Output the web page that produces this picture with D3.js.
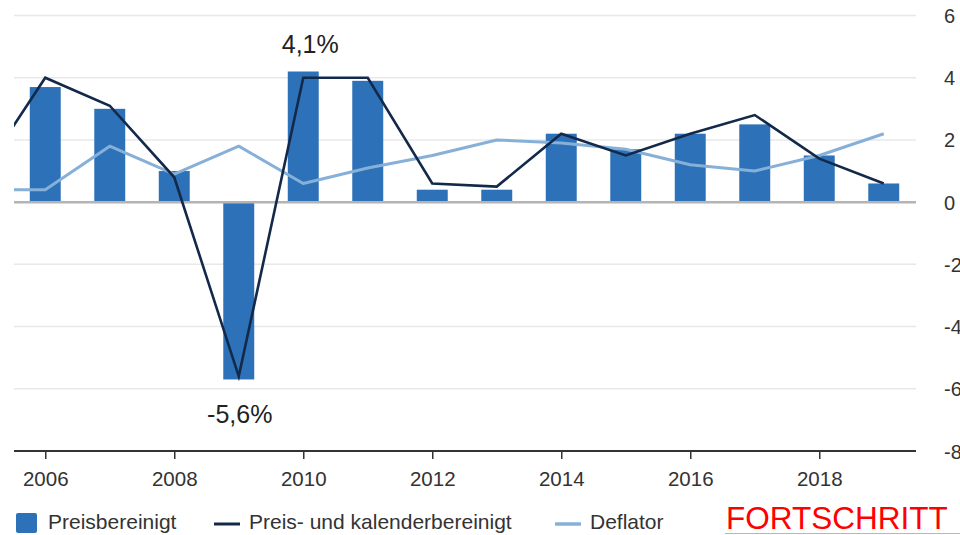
<!DOCTYPE html>
<html>
<head>
<meta charset="utf-8">
<script src="https://cdn.jsdelivr.net/npm/d3@7"></script>
<style>
  html, body { margin: 0; padding: 0; background: #fff; overflow: hidden; }
  svg { display: block; font-family: "Liberation Sans", Arial, sans-serif; }
</style>
</head>
<body>
<svg id="chart" width="960" height="535"></svg>
<script>
// ---- data ----
const years = [2005, 2006, 2007, 2008, 2009, 2010, 2011, 2012, 2013, 2014, 2015, 2016, 2017, 2018, 2019];
const preisbereinigt = [null, 3.7, 3.0, 1.0, -5.7, 4.2, 3.9, 0.4, 0.4, 2.2, 1.7, 2.2, 2.5, 1.5, 0.6];
const kalenderbereinigt = [0.85, 4.0, 3.1, 0.8, -5.6, 4.0, 4.0, 0.6, 0.5, 2.2, 1.5, 2.2, 2.8, 1.4, 0.6];
const deflator = [0.4, 0.4, 1.8, 0.9, 1.8, 0.6, 1.1, 1.5, 2.0, 1.9, 1.7, 1.2, 1.0, 1.5, 2.2];
const xTicks = [2006, 2008, 2010, 2012, 2014, 2016, 2018];
const yTicks = [-8, -6, -4, -2, 0, 2, 4, 6];
const seriesNames = ["Preisbereinigt", "Preis- und kalenderbereinigt", "Deflator"];
const annotations = [
  { year: 2010, value: 5.0, text: "4,1%" },
  { year: 2009, value: -6.9, text: "-5,6%" }
];
const brandText = "FORTSCHRITT";

// ---- layout ----
const svg = d3.select("#chart");
const pLeft = 13, pRight = 916, pTop = 15.5, pBottom = 451;
const x = d3.scaleLinear().domain([2005.5, 2019.5]).range([pLeft, pRight]);
const y = d3.scaleLinear().domain([-8, 6]).range([pBottom, pTop]);
const barHalf = 0.24;
const colors = { bar: "#2d72b8", dark: "#13294a", light: "#86b0d8" };

svg.append("defs").append("clipPath").attr("id", "plotclip")
  .append("rect").attr("x", pLeft + 1).attr("y", 0).attr("width", pRight - pLeft - 1).attr("height", pBottom);

// gridlines
svg.append("g").selectAll("line").data(yTicks.filter(d => d !== 0 && d !== -8)).join("line")
  .attr("x1", pLeft + 1).attr("x2", pRight).attr("y1", d => y(d)).attr("y2", d => y(d))
  .attr("stroke", "#e8e8e8").attr("stroke-width", 1.5);

// y axis (right, labels only)
const yAxis = svg.append("g").attr("transform", `translate(${pRight},0)`)
  .call(d3.axisRight(y).tickValues(yTicks).tickSize(0).tickPadding(28).tickFormat(d => String(d)));
yAxis.select(".domain").remove();
yAxis.selectAll("text").attr("font-size", 20).attr("fill", "#333")
  .attr("font-family", "'Liberation Sans', Arial, sans-serif").attr("dy", "0.35em");

const rows = years.map((yr, i) => ({ yr, p: preisbereinigt[i], k: kalenderbereinigt[i], d: deflator[i] }));

// bars
svg.append("g").selectAll("rect").data(rows.filter(r => r.p !== null)).join("rect")
  .attr("x", r => x(r.yr - barHalf))
  .attr("width", r => x(r.yr + barHalf) - x(r.yr - barHalf))
  .attr("y", r => y(Math.max(0, r.p)))
  .attr("height", r => Math.abs(y(r.p) - y(0)))
  .attr("fill", colors.bar);

// zero line
svg.append("line").attr("x1", pLeft + 1).attr("x2", pRight).attr("y1", y(0)).attr("y2", y(0))
  .attr("stroke", "#b4b4b4").attr("stroke-width", 2.5);

// lines
const lineGen = key => d3.line().x(r => x(r.yr)).y(r => y(r[key]));
const lg = svg.append("g").attr("clip-path", "url(#plotclip)");
lg.append("path").datum(rows).attr("d", lineGen("d"))
  .attr("fill", "none").attr("stroke", colors.light).attr("stroke-width", 3).attr("stroke-linejoin", "round");
lg.append("path").datum(rows).attr("d", lineGen("k"))
  .attr("fill", "none").attr("stroke", colors.dark).attr("stroke-width", 2.6).attr("stroke-linejoin", "miter");

// bottom axis
const xAxis = svg.append("g").attr("transform", `translate(0,${pBottom})`)
  .call(d3.axisBottom(x).tickValues(xTicks).tickSize(8).tickPadding(12).tickFormat(d => String(d)));
xAxis.select(".domain").attr("d", `M${pLeft + 1},0H${pRight}`).attr("stroke", "#333").attr("stroke-width", 1.8);
xAxis.selectAll(".tick line").attr("stroke", "#333").attr("stroke-width", 1.5);
xAxis.selectAll("text").attr("font-size", 20.5).attr("fill", "#333")
  .attr("font-family", "'Liberation Sans', Arial, sans-serif");

// annotations
svg.append("g").selectAll("text").data(annotations).join("text")
  .attr("x", a => x(a.year) + (a.year === 2010 ? 7 : 1))
  .attr("y", a => y(a.value) + 6)
  .attr("text-anchor", "middle").attr("font-size", 25).attr("fill", "#222")
  .text(a => a.text);

// legend
const leg = svg.append("g").attr("font-size", 21).attr("fill", "#333");
leg.append("rect").attr("x", 16).attr("y", 513).attr("width", 21).attr("height", 20).attr("rx", 2).attr("fill", colors.bar);
leg.append("text").attr("x", 48).attr("y", 529).text(seriesNames[0]);
leg.append("line").attr("x1", 214).attr("x2", 240).attr("y1", 524).attr("y2", 524).attr("stroke", colors.dark).attr("stroke-width", 3);
leg.append("text").attr("x", 249).attr("y", 529).text(seriesNames[1]);
leg.append("line").attr("x1", 555).attr("x2", 581).attr("y1", 524).attr("y2", 524).attr("stroke", colors.light).attr("stroke-width", 3.5);
leg.append("text").attr("x", 590).attr("y", 529).text(seriesNames[2]);

// brand text
svg.append("text").attr("x", 726).attr("y", 529).attr("font-size", 31.5).attr("fill", "#ff0000").text(brandText);
svg.append("line").attr("x1", 725).attr("x2", 960).attr("y1", 533.5).attr("y2", 533.5).attr("stroke", "#ff9a9a").attr("stroke-width", 1.2);
</script>
</body>
</html>
